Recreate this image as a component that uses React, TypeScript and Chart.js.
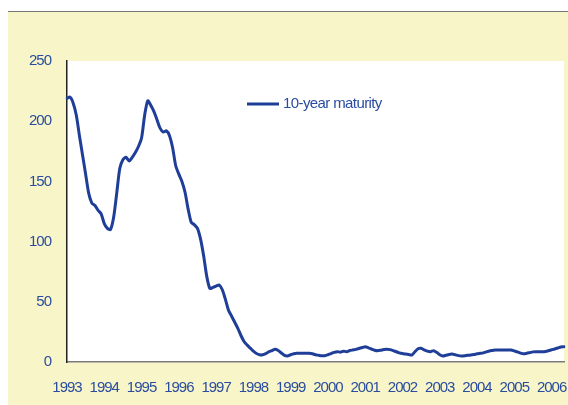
import React, { useEffect, useRef } from 'react';
import { Chart, registerables } from 'chart.js';

Chart.register(...registerables);

const seriesLabel = '10-year maturity';
const yearTicks = ['1993', '1994', '1995', '1996', '1997', '1998', '1999', '2000', '2001', '2002', '2003', '2004', '2005', '2006'];
const monthNames = ['Jan', 'Feb', 'Mar', 'Apr', 'May', 'Jun', 'Jul', 'Aug', 'Sep', 'Oct', 'Nov', 'Dec'];

// Monthly values, Jan 1993 .. May 2006
const maturity10y = [
  // 1993
  219, 220, 215, 205, 188, 172, 156, 140, 132, 130, 126, 123,
  // 1994
  115, 111, 110, 120, 140, 161, 168, 170, 167, 170, 174, 179,
  // 1995
  186, 205, 217, 213, 208, 201, 194, 191, 192, 188, 178, 163,
  // 1996
  156, 150, 141, 127, 116, 114, 111, 102, 88, 71, 61, 62,
  // 1997
  63, 64, 60, 52, 43, 38, 33, 28, 22, 17, 14, 11.5,
  // 1998
  9, 7, 6, 6, 7, 8.5, 9.5, 10.5, 9.5, 7.5, 5.5, 5,
  // 1999
  6, 6.8, 7.2, 7.2, 7.2, 7.2, 7.2, 6.8, 6, 5.6, 5.2, 5.2,
  // 2000
  6, 7, 8, 8.6, 8.2, 9, 8.6, 9.5, 10, 10.5, 11.2, 12,
  // 2001
  12.7, 11.8, 10.8, 9.8, 9.4, 9.8, 10.3, 10.5, 10.3, 9.5, 8.5, 7.6,
  // 2002
  7, 6.6, 6.2, 5.8, 8.5, 11, 11.4, 10, 9, 8.6, 9.4, 8,
  // 2003
  6, 5, 5.6, 6.3, 6.6, 6, 5.3, 5, 5.2, 5.6, 5.8, 6.2,
  // 2004
  6.8, 7.2, 7.6, 8.4, 9.2, 9.6, 10, 10, 10, 10, 10, 10,
  // 2005
  9.2, 8.4, 7.4, 6.8, 7.2, 7.8, 8.4, 8.6, 8.6, 8.6, 8.8, 9.4,
  // 2006
  10.2, 10.8, 11.6, 12.5, 12.7,
];

const monthLabels: string[] = [];
yearTicks.forEach((y) => monthNames.forEach((m) => monthLabels.push(m + ' ' + y)));
const categories = monthLabels.slice(0, maturity10y.length);

const TEXT = '#2A4CA0';
const LINE = '#1F3E98';
const BG = '#F8F6C8';
const FONT = "'Liberation Sans', Arial, sans-serif";

const plotBg = {
  id: 'plotBg',
  beforeDraw(chart: any) {
    const { ctx, chartArea } = chart;
    ctx.letterSpacing = '-1px';
    ctx.save();
    ctx.fillStyle = '#FFFFFF';
    ctx.fillRect(chartArea.left, chartArea.top, chartArea.right - chartArea.left, chartArea.bottom - chartArea.top);
    ctx.restore();
  },
};

const inlineLegend = {
  id: 'inlineLegend',
  afterDraw(chart: any) {
    const { ctx, chartArea } = chart;
    const ds = chart.data.datasets[0];
    const x0 = chartArea.left + 180;
    const y0 = chartArea.top + 43;
    ctx.save();
    ctx.strokeStyle = ds.borderColor;
    ctx.lineWidth = 3;
    ctx.lineCap = 'butt';
    ctx.beginPath();
    ctx.moveTo(x0, y0);
    ctx.lineTo(x0 + 32, y0);
    ctx.stroke();
    ctx.letterSpacing = '-0.6px';
    ctx.fillStyle = TEXT;
    ctx.font = '15px ' + FONT;
    ctx.textBaseline = 'middle';
    ctx.textAlign = 'left';
    ctx.fillText(ds.label, x0 + 36, y0);
    ctx.restore();
  },
};

export default function App() {
  const ref = useRef<HTMLCanvasElement>(null);
  useEffect(() => {
    document.body.style.overflow = 'hidden';
    const chart = new Chart(ref.current as HTMLCanvasElement, {
      type: 'line',
      data: {
        labels: categories,
        datasets: [
          {
            label: seriesLabel,
            data: maturity10y,
            borderColor: LINE,
            borderWidth: 3,
            pointRadius: 0,
            tension: 0.25,
            borderJoinStyle: 'round',
            borderCapStyle: 'round',
            fill: false,
          },
        ],
      },
      options: {
        animation: false,
        responsive: false,
        maintainAspectRatio: false,
        layout: { padding: { top: 49, right: 4, left: 0, bottom: 0 } },
        plugins: { legend: { display: false }, tooltip: { enabled: false } },
        scales: {
          x: {
            type: 'category',
            offset: false,
            grid: { display: false, drawTicks: false },
            border: { display: true, color: '#7A7A7A', width: 1.5 },
            ticks: {
              autoSkip: false,
              maxRotation: 0,
              minRotation: 0,
              padding: 17,
              color: TEXT,
              font: { family: FONT, size: 15 },
              callback: (_v: any, i: number) => (i % 12 === 0 ? yearTicks[i / 12] : ''),
            },
            afterFit: (s: any) => {
              s.height = 43;
              s.paddingLeft = 0;
              s.paddingRight = 0;
            },
          },
          y: {
            min: 0,
            max: 250,
            grid: { display: false, drawTicks: false },
            border: { display: true, color: '#222222', width: 1.5 },
            ticks: {
              stepSize: 50,
              padding: 16,
              color: TEXT,
              font: { family: FONT, size: 15 },
            },
            afterFit: (s: any) => {
              s.width = 59;
              s.paddingTop = 0;
              s.paddingBottom = 0;
            },
          },
        },
      },
      plugins: [plotBg, inlineLegend],
    });
    return () => chart.destroy();
  }, []);

  return (
    <div style={{ position: 'fixed', left: 8, top: 11, width: 560, height: 394, background: BG, borderTop: '1px solid #777777' }}>
      <canvas ref={ref} width={560} height={393} style={{ display: 'block', width: 560, height: 393 }} />
    </div>
  );
}
